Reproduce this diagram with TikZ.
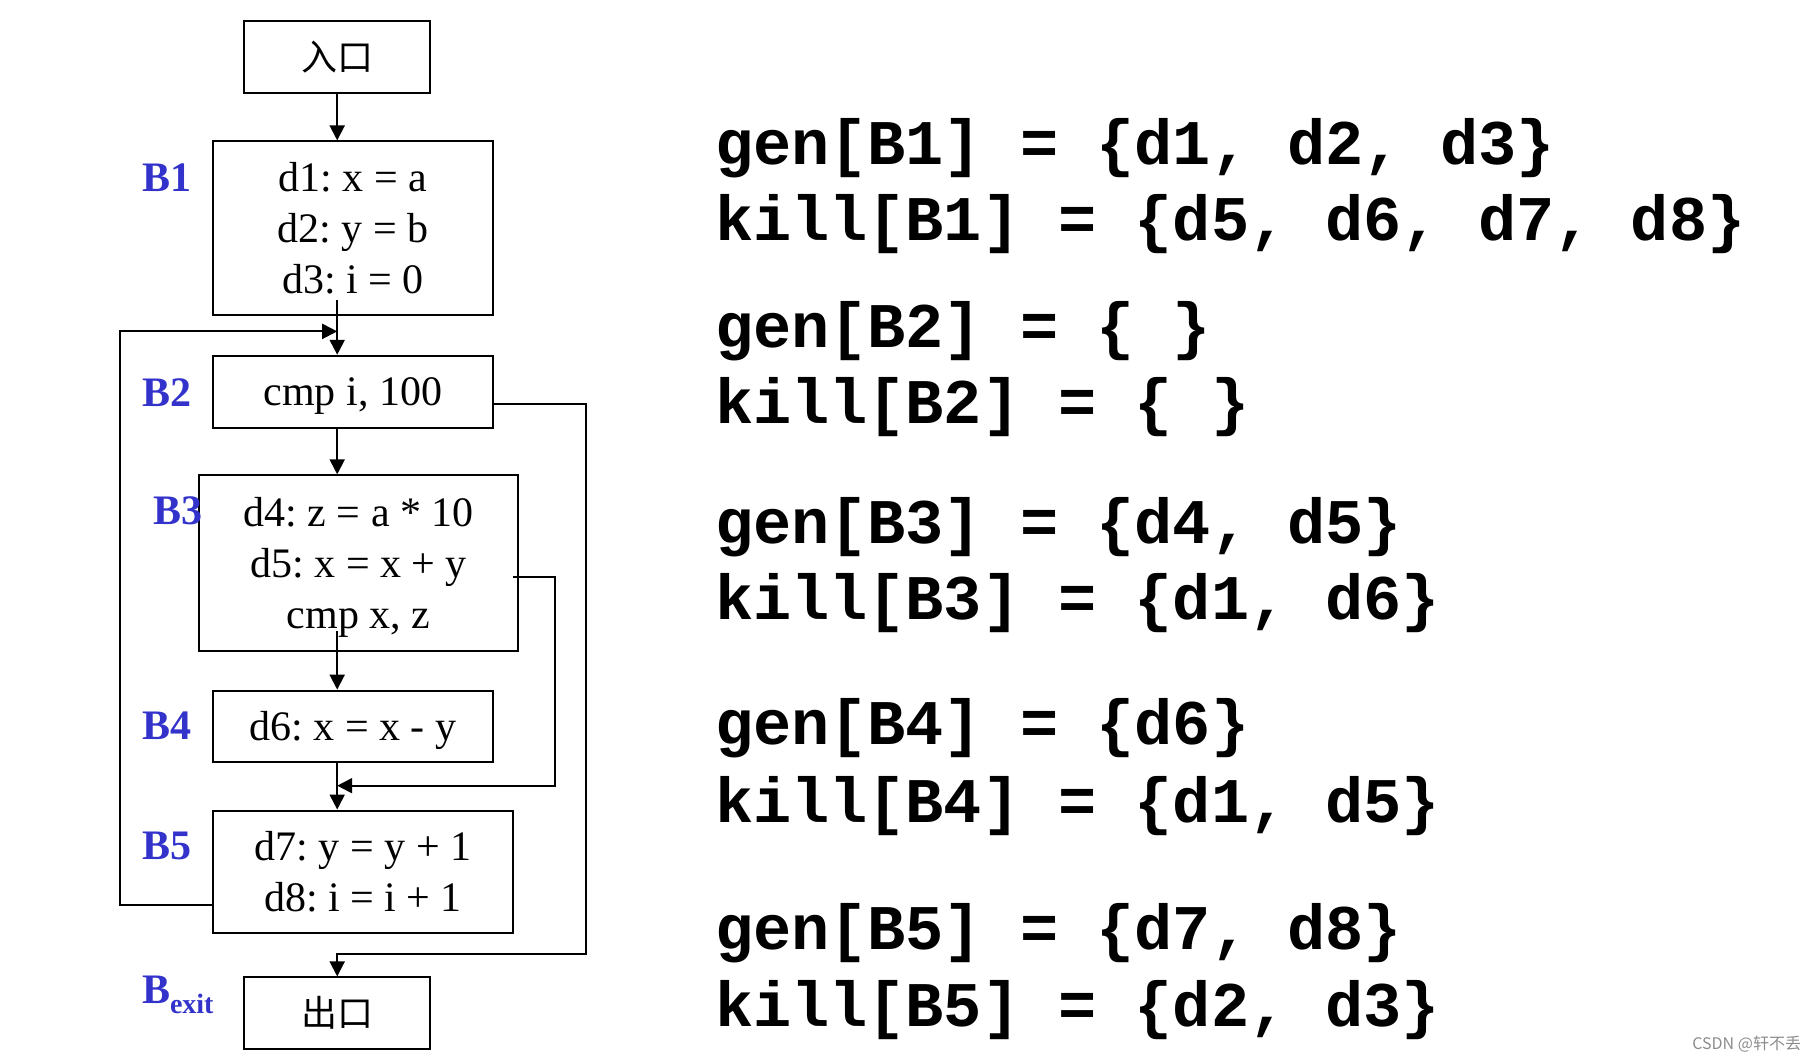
\documentclass[tikz,border=0pt]{standalone}
\usepackage{fontspec}
\setmainfont{Liberation Serif}
\newfontfamily\cjk{Noto Sans CJK SC}
\newfontfamily\codefont{Liberation Mono}
\usetikzlibrary{arrows.meta}
\definecolor{blockblue}{RGB}{51,51,204}
\frenchspacing

\begin{document}
\begin{tikzpicture}[x=0.5pt,y=-0.5pt,line width=1pt,
    box/.style={draw,inner sep=0pt,align=center,text depth=0pt,font=\fontsize{21}{25.5}\selectfont},
    cjkbox/.style={draw,inner sep=0pt,minimum width=92.75pt,minimum height=35.9pt,font=\cjk\fontsize{18}{18}\selectfont},
    lbl/.style={anchor=base west,inner sep=0pt,text=blockblue,font=\fontsize{21}{25}\selectfont\bfseries},
    eq/.style={anchor=base west,inner sep=0pt,font=\codefont\bfseries\fontsize{31.8}{32}\selectfont},
    arr/.style={-{Triangle[length=7.5pt,width=7.5pt]}}]
    \useasboundingbox (0,0) rectangle (1817,1063);
    % flow graph
    \node[cjkbox] (entry) at (337.2,56.8) {入口};
    \node[box,minimum width=139.75pt,minimum height=86.9pt] (B1) at (352.8,228.3) {d1: x = a\\d2: y = b\\d3: i = 0};
    \node[box,minimum width=139.75pt,minimum height=35.9pt] (B2) at (352.8,391.7) {cmp i, 100};
    \node[box,minimum width=159.35pt,minimum height=87.65pt] (B3) at (358.7,563) {d4: z = a * 10\\d5: x = x + y\\cmp x, z};
    \node[box,minimum width=139.75pt,minimum height=35.65pt] (B4) at (352.8,726.3) {d6: x = x - y};
    \node[box,minimum width=149.7pt,minimum height=61.25pt] (B5) at (363,871.8) {d7: y = y + 1\\d8: i = i + 1};
    \node[cjkbox] (exit) at (337.2,1013.3) {出口};
    \node[lbl] (lB1) at (141,191.7) {B1};
    \node[lbl] (lB2) at (141,406.7) {B2};
    \node[lbl] (lB3) at (152.3,525) {B3};
    \node[lbl] (lB4) at (141,740) {B4};
    \node[lbl] (lB5) at (141,860) {B5};
    \node[lbl] (lBexit) at (141,1003.3) {B\raisebox{-5.3pt}{\fontsize{14}{14}\selectfont exit}};
    \coordinate (join1) at (337.2,331.4);
    \coordinate (join2) at (337.2,785.7);
    \coordinate (join3) at (337.2,953.7);
    \draw[arr] (entry.south) -- (entry.south |- B1.north);
    \draw[arr] ([yshift=8pt]B1.south -| entry.south) -- (entry.south |- B2.north);
    \draw[arr] (B2.south -| entry.south) -- (entry.south |- B3.north);
    \draw[arr] ([yshift=10.3pt]B3.south -| entry.south) -- (entry.south |- B4.north);
    \draw[arr] (B4.south -| entry.south) -- (entry.south |- B5.north);
    \draw[arr] ([yshift=-16.6pt]B5.west) -- ++(-92.5,0) |- (join1);
    \draw[arr] ([xshift=-2.9pt,yshift=-7pt]B3.east) -- ++(41.7,0) |- (join2);
    \draw[arr] ([yshift=-6.35pt]B2.east) -- ++(92.7,0) |- (join3) -- (exit.north);
    % gen and kill sets
    \node[eq] (gen1) at (714,164.5) {gen[B1] = \{d1, d2, d3\}};
    \node[eq] (kill1) at (714,241) {kill[B1] = \{d5, d6, d7, d8\}};
    \node[eq] (gen2) at (714,347.6) {gen[B2] = \{ \}};
    \node[eq] (kill2) at (714,424) {kill[B2] = \{ \}};
    \node[eq] (gen3) at (714,543.5) {gen[B3] = \{d4, d5\}};
    \node[eq] (kill3) at (714,620) {kill[B3] = \{d1, d6\}};
    \node[eq] (gen4) at (714,745) {gen[B4] = \{d6\}};
    \node[eq] (kill4) at (714,822.7) {kill[B4] = \{d1, d5\}};
    \node[eq] (gen5) at (714,950) {gen[B5] = \{d7, d8\}};
    \node[eq] (kill5) at (714,1026.7) {kill[B5] = \{d2, d3\}};
    \node[anchor=base east,inner sep=0pt,text=black!45,font=\cjk\fontsize{8}{8}\selectfont] (mark) at (1802,1050) {CSDN @轩不丢};
\end{tikzpicture}
\end{document}
